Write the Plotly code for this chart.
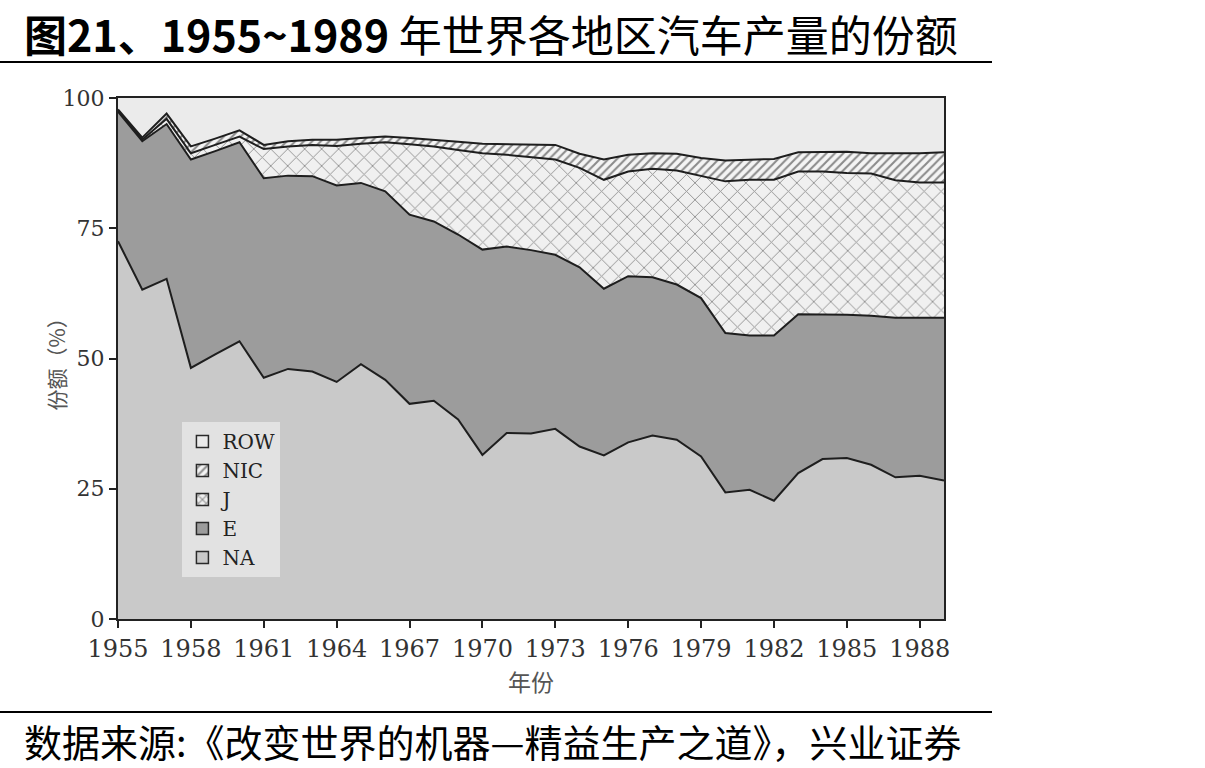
import plotly.graph_objects as go

years = list(range(1955, 1990))
# shares (%) of world motor-vehicle production by region
NA = [72.5, 63.2, 65.3, 48.2, 50.8, 53.3, 46.3, 48.0, 47.5, 45.5, 48.9, 45.9, 41.3, 41.9, 38.3,
      31.5, 35.7, 35.6, 36.5, 33.1, 31.4, 33.9, 35.2, 34.4, 31.2, 24.3, 24.8, 22.7, 28.0, 30.7,
      30.9, 29.6, 27.2, 27.5, 26.6]
E = [24.9, 28.5, 29.7, 40.0, 39.0, 38.2, 38.3, 37.1, 37.5, 37.7, 34.8, 36.2, 36.3, 34.4, 35.5,
     39.4, 35.8, 35.2, 33.4, 34.4, 32.0, 31.9, 30.4, 29.8, 30.4, 30.6, 29.6, 31.7, 30.5, 27.8,
     27.5, 28.6, 30.6, 30.3, 31.2]
J = [0.2, 0.3, 1.0, 1.2, 1.2, 1.1, 5.6, 5.6, 6.0, 7.6, 7.5, 9.4, 13.5, 14.4, 16.2,
     18.5, 17.6, 17.8, 18.3, 19.1, 20.9, 20.1, 20.8, 21.9, 23.5, 29.1, 29.9, 29.9, 27.4, 27.4,
     27.2, 27.3, 26.4, 26.0, 26.0]
NIC = [0.2, 0.4, 1.0, 1.3, 1.2, 1.2, 0.8, 1.0, 1.0, 1.2, 1.1, 1.1, 1.2, 1.3, 1.6,
       1.8, 2.0, 2.4, 2.8, 2.7, 3.9, 3.2, 3.0, 3.2, 3.4, 4.0, 3.9, 4.0, 3.7, 3.8,
       4.1, 3.9, 5.2, 5.6, 5.8]
ROW = [2.2, 7.6, 3.0, 9.3, 7.8, 6.2, 9.0, 8.3, 8.0, 8.0, 7.7, 7.4, 7.7, 8.0, 8.4,
       8.8, 8.9, 9.0, 9.0, 10.7, 11.8, 10.9, 10.6, 10.7, 11.5, 12.0, 11.8, 11.7, 10.4, 10.3,
       10.3, 10.6, 10.6, 10.6, 10.4]

xticks = list(range(1955, 1989, 3))
yticks = [0, 25, 50, 75, 100]

title_text = "<b>图21、1955~1989</b> 年世界各地区汽车产量的份额"
source_text = "数据来源:《改变世界的机器—精益生产之道》，兴业证券"

LINE = "#1e1e1e"
styles = {
    "NA": dict(fillcolor="#c9c9c9", pattern=None),
    "E": dict(fillcolor="#9c9c9c", pattern=None),
    "J": dict(fillcolor="#f0f0f0", pattern=dict(shape="x", fgcolor="#333333", bgcolor="#f0f0f0",
                                                 size=12, solidity=0.15)),
    "NIC": dict(fillcolor="#f4f4f4", pattern=dict(shape="/", fgcolor="#222222", bgcolor="#f4f4f4",
                                                   size=6, solidity=0.35)),
    "ROW": dict(fillcolor="#ebebeb", pattern=None),
}
series = [("NA", NA), ("E", E), ("J", J), ("NIC", NIC), ("ROW", ROW)]

fig = go.Figure()
for name, vals in series:
    st = styles[name]
    kw = dict(x=years, y=vals, name=name, mode="lines", stackgroup="one",
              line=dict(color=LINE, width=2 if name != "ROW" else 0),
              fillcolor=st["fillcolor"], showlegend=False, hoverinfo="skip")
    if st["pattern"]:
        kw["fillpattern"] = st["pattern"]
    fig.add_trace(go.Scatter(**kw))

# legend proxies (square swatches)
for name in ["ROW", "NIC", "J", "E", "NA"]:
    st = styles[name]
    marker = dict(color=st["fillcolor"], line=dict(color="#2a2a2a", width=1.5))
    if st["pattern"]:
        p = dict(st["pattern"])
        p["size"] = 7
        p["solidity"] = 0.35
        marker["pattern"] = p
    fig.add_trace(go.Bar(x=[None], y=[None], name=name, marker=marker, showlegend=True))

L, R, T, B = 118, 944, 98, 619
W, H = R - L, B - T


def px(x):
    return (x - L) / W


def py(y):
    return (B - y) / H


fig.update_layout(
    width=1205, height=768,
    margin=dict(l=L, r=1205 - R, t=T, b=768 - B),
    paper_bgcolor="white", plot_bgcolor="white",
    showlegend=True,
    legend=dict(x=0.078, y=0.378, xanchor="left", yanchor="top", bgcolor="#e2e2e2",
                font=dict(family="DejaVu Serif", size=20, color="#222"),
                traceorder="normal", itemwidth=30, tracegroupgap=0),
    xaxis=dict(range=[1955, 1989], tickvals=xticks, ticktext=[str(v) for v in xticks],
               showgrid=False, zeroline=False, showline=True, mirror=True, linecolor="#222",
               linewidth=2, ticks="outside", ticklen=7, tickcolor="#222", tickwidth=1.5,
               tickfont=dict(family="DejaVu Serif", size=24, color="#333")),
    yaxis=dict(range=[0, 100], tickvals=yticks, showgrid=False, zeroline=False, showline=True,
               mirror=True, linecolor="#222", linewidth=2, ticks="outside", ticklen=7,
               tickcolor="#222", tickwidth=1.5,
               tickfont=dict(family="DejaVu Serif", size=22, color="#333")),
    font=dict(family="Noto Sans CJK SC"),
)

annotations = [
    dict(text=title_text, x=px(22), y=py(33), xref="paper", yref="paper", xanchor="left",
         yanchor="middle", showarrow=False,
         font=dict(family="Noto Sans CJK SC", size=43, color="#000")),
    dict(text=source_text, x=px(22), y=py(740), xref="paper", yref="paper", xanchor="left",
         yanchor="middle", showarrow=False,
         font=dict(family="Noto Sans CJK SC", size=38, color="#000")),
    dict(text="份额（%）", x=px(55), y=0.5, xref="paper", yref="paper", xanchor="center",
         yanchor="middle", textangle=-90, showarrow=False,
         font=dict(family="Noto Sans CJK SC", size=21, color="#555")),
    dict(text="年份", x=px(531), y=py(681), xref="paper", yref="paper", xanchor="center",
         yanchor="middle", showarrow=False,
         font=dict(family="Noto Sans CJK SC", size=23, color="#555")),
]
fig.update_layout(annotations=annotations)

fig.update_layout(shapes=[
    dict(type="line", xref="paper", yref="paper", x0=px(0), x1=px(992), y0=py(62), y1=py(62),
         line=dict(color="#000", width=2)),
    dict(type="line", xref="paper", yref="paper", x0=px(0), x1=px(992), y0=py(712), y1=py(712),
         line=dict(color="#000", width=2)),
])

fig.write_html("out.html")
